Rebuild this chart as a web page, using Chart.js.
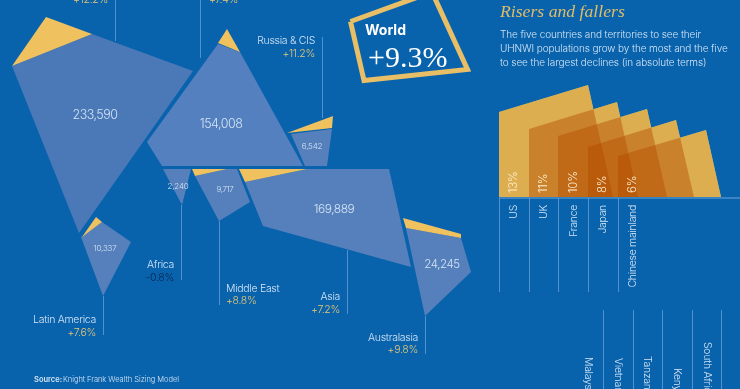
<!DOCTYPE html>
<html>
<head>
<meta charset="utf-8">
<title>UHNWI populations</title>
<script src="https://cdn.jsdelivr.net/npm/chart.js@4/dist/chart.umd.min.js"></script>
<style>
  html, body { margin: 0; padding: 0; background: #0863ac; overflow: hidden; }
  canvas { display: block; }
</style>
</head>
<body>
<canvas id="wealthChart" width="740" height="389"></canvas>
<script>
// Regions, as printed on the picture
const regionValues = ['233,590', '154,008', '6,542', '2,240', '9,717', '169,889', '10,337', '24,245'];
const regionNames = ['Russia & CIS', 'Africa', 'Middle East', 'Asia', 'Latin America', 'Australasia'];
const regionChanges = ['+11.2%', '-0.8%', '+8.8%', '+7.2%', '+7.6%', '+9.8%'];
const croppedChanges = ['+12.2%', '+7.4%'];

// Risers and fallers
const riserNames = ['US', 'UK', 'France', 'Japan', 'Chinese mainland'];
const riserChanges = ['13%', '11%', '10%', '8%', '6%'];
const fallerNames = ['Malaysia', 'Vietnam', 'Tanzania', 'Kenya', 'South Africa'];

// Outlines, in the units of the two axes
const regionShapes = [
    [[12, 66], [92, 34], [193, 71], [79, 233]],
    [[218, 44], [240, 52], [303, 166], [162, 166], [147, 142]],
    [[291, 134], [332, 129], [327, 166], [305, 166]],
    [[163, 169], [191, 169], [182, 205]],
    [[195, 176], [227, 169], [237, 169], [250, 202], [219, 221]],
    [[245, 182], [307, 169], [389, 169], [411, 267], [263, 226]],
    [[81, 237], [102, 222], [131, 242], [103, 296]],
    [[406, 228], [461, 238], [471, 272], [425, 316]]
];
const capShapes = [
    [[46, 17], [92, 34], [12, 66]],
    [[227, 29], [240, 52], [218, 43]],
    [[333, 116], [332, 128], [287, 133]],
    [[192, 169], [227, 169], [195, 176]],
    [[239, 169], [307, 169], [245, 182]],
    [[96, 217], [102, 222], [82, 237]],
    [[403, 218], [461, 234], [461, 238], [406, 228]]
];
const riserShapes = [
    [[499, 197], [499, 112], [588, 85], [613, 197]],
    [[529, 197], [529, 129], [617, 102], [638, 197]],
    [[558, 197], [558, 136], [647, 109], [667, 197]],
    [[588, 197], [588, 147], [676, 120], [694, 197]],
    [[618, 197], [618, 156], [706, 130], [721, 197]]
];
const worldBox = [[350.5, 21.5], [432, -8], [467.5, 69.5], [364, 80.5], [350.5, 21.5]];
const leaders = [
    [[115.5, 0], [115.5, 41]],
    [[200.5, 0], [200.5, 58]],
    [[322.5, 37], [322.5, 118]],
    [[181.5, 205], [181.5, 280]],
    [[219.5, 221], [219.5, 305]],
    [[347.5, 250], [347.5, 314]],
    [[425.5, 316], [425.5, 354]],
    [[103.5, 296], [103.5, 335]],
    [[499.5, 198], [499.5, 292]],
    [[529.5, 198], [529.5, 292]],
    [[558.5, 198], [558.5, 292]],
    [[588.5, 198], [588.5, 292]],
    [[618.5, 198], [618.5, 292]],
    [[603.5, 310], [603.5, 389]],
    [[633.5, 310], [633.5, 389]],
    [[662.5, 310], [662.5, 389]],
    [[692.5, 310], [692.5, 389]],
    [[721.5, 310], [721.5, 389]]
];
const baseLine = [[499, 198], [740, 198]];

const toPoints = pts => pts.map(p => ({ x: p[0], y: p[1] }));

function shape(pts, color) {
    return { data: toPoints(pts), showLine: true, fill: 'shape', backgroundColor: color, borderWidth: 0, pointRadius: 0 };
}
function stroke(pts, color, width) {
    return { data: toPoints(pts), showLine: true, fill: false, borderColor: color, borderWidth: width, pointRadius: 0 };
}

const regionFill = ['#4b79b8', '#5580bf', '#5680bc', '#5680bc', '#5680bc', '#5680bc', '#5680bc', '#5680bc'];

// Chart.js paints the first dataset last, so the pale riser layer goes at the end
const datasets = [
    ...capShapes.map(s => shape(s, '#efc15f')),
    ...regionShapes.map((s, i) => shape(s, regionFill[i])),
    stroke(worldBox, '#e8bf66', 5),
    ...leaders.map(l => stroke(l, 'rgba(125,175,225,0.28)', 1)),
    stroke(baseLine, '#6fa6dc', 1),
    ...riserShapes.map(s => shape(s, 'rgba(180,75,0,0.45)')),
    ...riserShapes.map(s => shape(s, '#ffff90'))
];

const LIGHT = '300 10.5px Inter, sans-serif';
const SMALL = '300 8px Inter, sans-serif';
const PALE = '#d4e4f5';
const GOLD = '#e6c777';

const texts = [
    [regionValues[0], 95, 115, 'center', '300 12.5px Inter', PALE, -0.5],
    [regionValues[1], 221, 124, 'center', '300 12.5px Inter', PALE, -0.5],
    [regionValues[2], 312, 147, 'center', SMALL, PALE, -0.2],
    [regionValues[3], 178, 187, 'center', SMALL, PALE, -0.2],
    [regionValues[4], 225, 190, 'center', SMALL, PALE, -0.4],
    [regionValues[5], 334, 209, 'center', '300 12px Inter', PALE, -0.5],
    [regionValues[6], 105, 249, 'center', SMALL, PALE, -0.2],
    [regionValues[7], 442, 265, 'center', '300 11.5px Inter', PALE, -0.4],
    [croppedChanges[0], 108, 0, 'right', LIGHT, GOLD, -0.3],
    [croppedChanges[1], 209, 0, 'left', LIGHT, GOLD, -0.3],
    [regionNames[0], 315, 41, 'right', LIGHT, PALE, -0.3],
    [regionChanges[0], 315, 54, 'right', LIGHT, GOLD, -0.3],
    [regionNames[1], 174, 265, 'right', LIGHT, PALE, -0.3],
    [regionChanges[1], 174, 278, 'right', LIGHT, '#06264f', -0.3],
    [regionNames[2], 226, 289, 'left', LIGHT, PALE, -0.3],
    [regionChanges[2], 226, 301, 'left', LIGHT, GOLD, -0.3],
    [regionNames[3], 340, 297, 'right', LIGHT, PALE, -0.3],
    [regionChanges[3], 340, 310, 'right', LIGHT, GOLD, -0.3],
    [regionNames[4], 96, 320, 'right', LIGHT, PALE, -0.3],
    [regionChanges[4], 96, 333, 'right', LIGHT, GOLD, -0.3],
    [regionNames[5], 418, 338, 'right', LIGHT, PALE, -0.3],
    [regionChanges[5], 418, 350, 'right', LIGHT, GOLD, -0.3],
    ['World', 365, 31, 'left', '700 14px Inter', '#ffffff', 0],
    ['+9.3%', 368, 59, 'left', '30px "Liberation Serif"', '#ffffff', 0],
    ['Risers and fallers', 500, 12, 'left', 'italic 17.7px "Liberation Serif"', '#e0bb69', 0],
    ['The five countries and territories to see their', 500, 35, 'left', '300 10px Inter', PALE, -0.1],
    ['UHNWI populations grow by the most and the five', 500, 49, 'left', '300 10px Inter', PALE, -0.1],
    ['to see the largest declines (in absolute terms)', 500, 63, 'left', '300 10px Inter', PALE, -0.1],
    ['Source:', 34, 380, 'left', '600 7.5px Inter', PALE, 0],
    ['Knight Frank Wealth Sizing Model', 63, 380, 'left', '300 7.5px Inter', PALE, -0.03]
];

// Rotated labels: up the page for risers, down the page for fallers
const riserLabelX = [514, 544, 574, 603, 633];
const fallerLabelX = [588, 618, 647, 677, 707];
const fallerLabelY = [357, 358, 356, 368, 342];

const labelPlugin = {
    id: 'labels',
    afterDatasetsDraw(chart) {
        const c = chart.ctx, sx = chart.scales.x, sy = chart.scales.y;
        const put = (t, x, y, align, font, color, spacing, angle) => {
            c.save();
            c.translate(sx.getPixelForValue(x), sy.getPixelForValue(y));
            if (angle) c.rotate(angle);
            c.textAlign = align;
            c.textBaseline = 'middle';
            c.font = font;
            c.letterSpacing = spacing + 'px';
            c.fillStyle = color;
            c.fillText(t, 0, 0);
            c.restore();
        };
        texts.forEach(t => put(t[0], t[1], t[2], t[3], t[4], t[5], t[6], 0));
        riserNames.forEach((n, i) => {
            put(riserChanges[i], riserLabelX[i], 193, 'left', '300 11.5px Inter', '#fbeecf', -0.2, -Math.PI / 2);
            put(n, riserLabelX[i], 205, 'right', LIGHT, PALE, -0.3, -Math.PI / 2);
        });
        fallerNames.forEach((n, i) => {
            put(n, fallerLabelX[i], fallerLabelY[i], 'left', LIGHT, PALE, -0.3, Math.PI / 2);
        });
    }
};

new Chart(document.getElementById('wealthChart').getContext('2d'), {
    type: 'scatter',
    data: { datasets: datasets },
    plugins: [labelPlugin],
    options: {
        responsive: false,
        animation: false,
        layout: { padding: 0 },
        elements: { line: { tension: 0 } },
        scales: {
            x: { display: false, min: 0, max: 740 },
            y: { display: false, min: 0, max: 389, reverse: true }
        },
        plugins: { legend: { display: false }, tooltip: { enabled: false } }
    }
});
</script>
</body>
</html>
